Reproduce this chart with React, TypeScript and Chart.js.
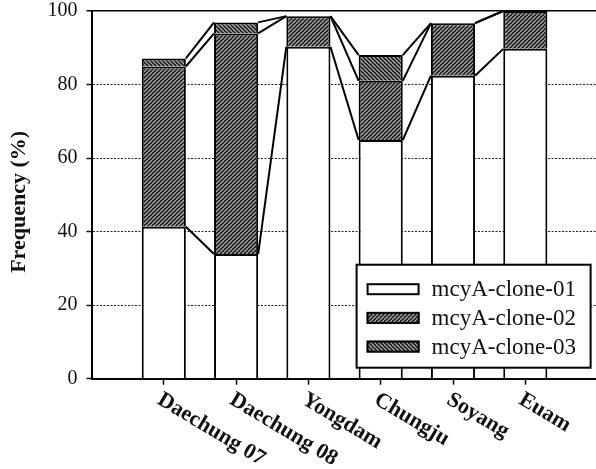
import React, { useEffect, useRef } from 'react';
import { Chart, registerables } from 'chart.js';

Chart.register(...registerables);

const categories = ['Daechung 07', 'Daechung 08', 'Yongdam', 'Chungju', 'Soyang', 'Euam'];
const seriesLabels = ['mcyA-clone-01', 'mcyA-clone-02', 'mcyA-clone-03'];
const clone01 = [41.3, 33.9, 90.3, 64.9, 82.4, 89.7];
const clone02 = [43.6, 60.0, 8.3, 16.1, 14.3, 10.3];
const clone03 = [2.2, 3.0, 0, 7.0, 0, 0];
const yTickValues = [0, 20, 40, 60, 80, 100];
const yTitle = 'Frequency (%)';

const SERIF = '"Liberation Serif", "Times New Roman", serif';

function makeHatch(dir: number): CanvasPattern {
  const s = 4;
  const c = document.createElement('canvas');
  c.width = s;
  c.height = s;
  const g = c.getContext('2d') as CanvasRenderingContext2D;
  g.fillStyle = '#1e1e1e';
  g.fillRect(0, 0, s, s);
  g.strokeStyle = '#a8a8a8';
  g.lineWidth = 1.3;
  g.beginPath();
  for (let k = -1; k <= 1; k++) {
    if (dir > 0) {
      g.moveTo(k * s, s);
      g.lineTo(k * s + s, 0);
    } else {
      g.moveTo(k * s, 0);
      g.lineTo(k * s + s, s);
    }
  }
  g.stroke();
  return g.createPattern(c, 'repeat') as CanvasPattern;
}

export default function App() {
  const ref = useRef<HTMLCanvasElement | null>(null);

  useEffect(() => {
    const canvas = ref.current;
    if (!canvas) return;
    const seriesData = [clone01, clone02, clone03];
    const fills: (string | CanvasPattern)[] = ['#ffffff', makeHatch(1), makeHatch(-1)];
    const labels = ['', ...categories, ''];
    const pad = (arr: number[]) => [null, ...arr, null];

    const overlay = {
      id: 'overlay',
      afterDatasetsDraw(chart: any) {
        const ctx = chart.ctx as CanvasRenderingContext2D;
        const ys = chart.scales.y;
        ctx.save();
        ctx.strokeStyle = '#000';
        ctx.lineWidth = 2;
        const cum = categories.map(() => 0);
        seriesData.forEach((arr, s) => {
          for (let i = 0; i < categories.length; i++) cum[i] += arr[i];
          const meta = chart.getDatasetMeta(s);
          for (let i = 0; i < categories.length - 1; i++) {
            const a = meta.data[i + 1];
            const b = meta.data[i + 2];
            const x1 = a.x + a.width / 2;
            const x2 = b.x - b.width / 2;
            ctx.beginPath();
            ctx.moveTo(x1, ys.getPixelForValue(cum[i]));
            ctx.lineTo(x2, ys.getPixelForValue(cum[i + 1]));
            ctx.stroke();
          }
        });
        ctx.restore();
      },
      afterDraw(chart: any) {
        const ctx = chart.ctx as CanvasRenderingContext2D;
        const ca = chart.chartArea;
        const xs = chart.scales.x;
        // x labels (rotated clockwise)
        ctx.save();
        ctx.fillStyle = '#111';
        ctx.font = `bold 22px ${SERIF}`;
        ctx.textAlign = 'left';
        ctx.textBaseline = 'top';
        categories.forEach((c, i) => {
          const tx = xs.getPixelForValue(i + 1);
          ctx.save();
          ctx.translate(tx + 1, ca.bottom + 10);
          ctx.rotate((31 * Math.PI) / 180);
          ctx.fillText(c, 0, 0);
          ctx.restore();
        });
        ctx.restore();

        // y title
        ctx.save();
        ctx.fillStyle = '#111';
        ctx.font = `bold 22px ${SERIF}`;
        ctx.textAlign = 'center';
        ctx.textBaseline = 'middle';
        ctx.translate(19, (ca.top + ca.bottom) / 2 + 7);
        ctx.rotate(-Math.PI / 2);
        ctx.fillText(yTitle, 0, 0);
        ctx.restore();

        // legend
        const lx = ca.right - 241;
        const ly = ca.bottom - 114;
        const lw = 234;
        const lh = 103;
        ctx.save();
        ctx.fillStyle = '#fff';
        ctx.fillRect(lx, ly, lw, lh);
        ctx.strokeStyle = '#000';
        ctx.lineWidth = 2;
        ctx.strokeRect(lx, ly, lw, lh);
        ctx.font = `23px ${SERIF}`;
        ctx.textAlign = 'left';
        ctx.textBaseline = 'middle';
        seriesLabels.forEach((lab, r) => {
          const cy = ly + 24.5 + r * 28.7;
          ctx.fillStyle = fills[r] as any;
          ctx.fillRect(lx + 10, cy - 6, 53, 12);
          ctx.lineWidth = 2;
          ctx.strokeStyle = '#000';
          ctx.strokeRect(lx + 11, cy - 5, 51, 10);
          ctx.fillStyle = '#111';
          ctx.fillText(lab, lx + 75, cy + 1);
        });
        ctx.restore();
      },
    };

    const chart = new Chart(canvas, {
      type: 'bar',
      data: {
        labels,
        datasets: seriesData.map((arr, s) => ({
          label: seriesLabels[s],
          data: pad(arr) as any,
          backgroundColor: fills[s] as any,
          borderColor: '#000',
          borderWidth: { top: 2, left: 2, right: 2, bottom: 0 },
          borderSkipped: false,
          categoryPercentage: 1,
          barPercentage: 0.61,
        })),
      },
      options: {
        responsive: false,
        animation: false,
        devicePixelRatio: 1,
        layout: { padding: { top: 11, right: 2.4, left: 0, bottom: 0 } },
        plugins: { legend: { display: false }, tooltip: { enabled: false }, title: { display: false } },
        scales: {
          x: {
            type: 'category',
            stacked: true,
            offset: false,
            afterFit: (s: any) => {
              s.height = 90.3;
              s.paddingLeft = 0;
              s.paddingRight = 0;
            },
            grid: {
              offset: false,
              drawOnChartArea: false,
              drawTicks: true,
              tickLength: 6,
              tickWidth: 1.5,
              tickColor: (c: any) =>
                c.index === 0 || c.index === labels.length - 1 ? 'rgba(0,0,0,0)' : '#000',
            },
            border: { display: true, color: '#000', width: 2 },
            ticks: { display: false, autoSkip: false },
          },
          y: {
            stacked: true,
            min: 0,
            max: 100,
            afterFit: (s: any) => {
              s.width = 91.5;
              s.paddingTop = 0;
              s.paddingBottom = 0;
            },
            afterBuildTicks: (s: any) => {
              s.ticks = yTickValues.map((v) => ({ value: v }));
            },
            grid: {
              drawTicks: true,
              tickLength: 5,
              tickWidth: 1.5,
              tickColor: '#000',
              tickBorderDash: [],
              lineWidth: (c: any) => (c.tick && c.tick.value === 100 ? 1.5 : 1),
              color: (c: any) =>
                c.tick && c.tick.value === 0 ? 'rgba(0,0,0,0)' : c.tick && c.tick.value === 100 ? '#000' : '#222',
            },
            border: {
              display: true,
              color: '#000',
              width: 2,
              dash: (c: any) => (c.tick && c.tick.value === 100 ? [] : [2, 1.5]),
            } as any,
            ticks: {
              padding: 9,
              color: '#111',
              font: { family: SERIF, size: 20 },
            },
          },
        },
      },
      plugins: [overlay],
    });
    return () => chart.destroy();
  }, []);

  return (
    <div style={{ position: 'fixed', left: 0, top: 0, width: 596, height: 469, overflow: 'hidden', background: '#fff' }}>
      <canvas ref={ref} width={600} height={469} style={{ display: 'block' }} />
    </div>
  );
}
